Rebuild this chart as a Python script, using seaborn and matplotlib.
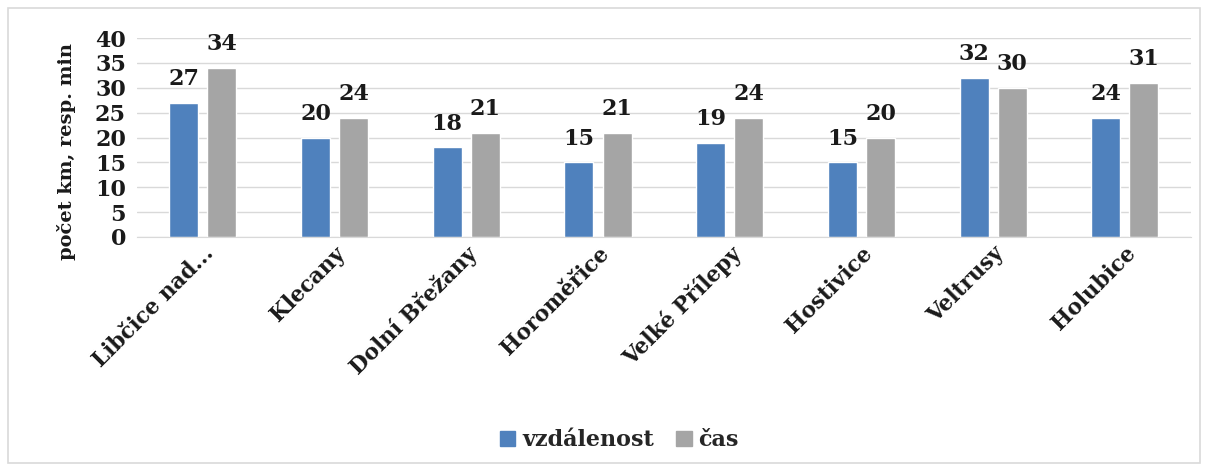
import matplotlib
matplotlib.use("Agg")
import matplotlib.pyplot as plt
import matplotlib.patches as mpatches
import pandas as pd
import seaborn as sns

# ------------------------------------------------------------------------------
# data
# ------------------------------------------------------------------------------
obce = ["Libčice nad...", "Klecany", "Dolní Břežany", "Horoměřice",
        "Velké Přílepy", "Hostivice", "Veltrusy", "Holubice"]
vzdalenost = [27, 20, 18, 15, 19, 15, 32, 24]
cas = [34, 24, 21, 21, 24, 20, 30, 31]
serie = ["vzdálenost", "čas"]
barvy = ["#4F81BD", "#A5A5A5"]

df = pd.DataFrame({"obec": obce * 2,
                   "serie": [serie[0]] * len(obce) + [serie[1]] * len(obce),
                   "hodnota": vzdalenost + cas})

# ------------------------------------------------------------------------------
# plot
# ------------------------------------------------------------------------------
sns.set_style("white")
plt.rcParams["font.family"] = ["DejaVu Serif"]
plt.rcParams["font.weight"] = "bold"

fig = plt.figure(figsize=(12.07, 4.71), dpi=100)
ax = fig.add_axes([0.1135, 0.497, 0.873, 0.422])

sns.barplot(data=df, x="obec", y="hodnota", hue="serie", palette=barvy,
            width=0.58, gap=0.24, ax=ax, legend=False, saturation=1)

for cont in ax.containers:
    ax.bar_label(cont, fmt="%d", padding=9, fontsize=16, fontweight="bold",
                 color="#1a1a1a")

ax.set_ylim(0, 40)
ax.set_yticks(range(0, 41, 5))
ax.yaxis.grid(True, color="#D9D9D9", linewidth=1)
ax.set_axisbelow(True)
for s in ["top", "right", "left"]:
    ax.spines[s].set_visible(False)
ax.spines["bottom"].set_color("#D9D9D9")
ax.tick_params(axis="both", length=0, labelsize=16, colors="#1a1a1a")
ax.tick_params(axis="y", pad=8)
ax.tick_params(axis="x", pad=4)
plt.setp(ax.get_xticklabels(), rotation=45, ha="right", rotation_mode="anchor",
         fontweight="bold", fontsize=15.5)
plt.setp(ax.get_yticklabels(), fontweight="bold")
ax.set_xlabel("")
ax.set_ylabel("počet km, resp. min", fontsize=14, fontweight="bold",
              color="#1a1a1a")
ax.yaxis.set_label_coords(-0.058, 0.43)

handles = [mpatches.Patch(color=c, label=l) for c, l in zip(barvy, serie)]
fig.legend(handles=handles, loc="center", bbox_to_anchor=(0.513, 0.065),
           ncol=2, frameon=False, handlelength=0.7,
           handleheight=0.7, handletextpad=0.3, columnspacing=1.0,
           prop={"weight": "bold", "size": 16})

# border of the chart area
fig.patches.append(mpatches.Rectangle((0.007, 0.018), 0.987, 0.966,
                                      transform=fig.transFigure, fill=False,
                                      edgecolor="#D9D9D9", linewidth=1.2))

fig.savefig("out.png", dpi=100)
